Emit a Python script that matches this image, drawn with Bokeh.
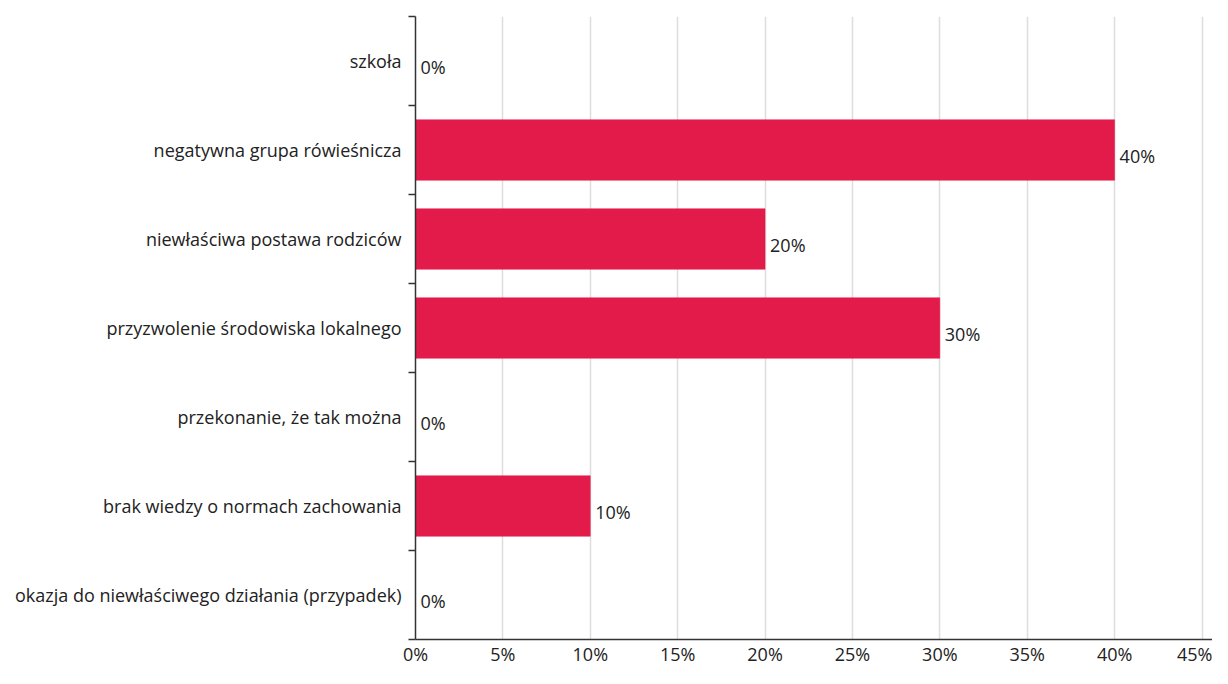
from bokeh.plotting import figure
from bokeh.models import Range1d, FixedTicker, ColumnDataSource, LabelSet
from bokeh.core.properties import value
from bokeh.embed import file_html
from bokeh.resources import INLINE

categories = [
    "szkoła",
    "negatywna grupa rówieśnicza",
    "niewłaściwa postawa rodziców",
    "przyzwolenie środowiska lokalnego",
    "przekonanie, że tak można",
    "brak wiedzy o normach zachowania",
    "okazja do niewłaściwego działania (przypadek)",
]
values = [0, 40, 20, 30, 0, 10, 0]
x_ticks = [0, 5, 10, 15, 20, 25, 30, 35, 40, 45]
x_tick_labels = {t: f"{t}%" for t in x_ticks}

FONT = "Open Sans"
FS = "18px"
TEXT = "#222222"
BAR = "#E31B4B"

n = len(categories)
centers = [i + 0.5 for i in range(n)]
bounds = [i for i in range(n + 1)]

src = ColumnDataSource(dict(
    y=centers,
    v=values,
    lab=[f"{v}%" for v in values],
))

p = figure(
    width=1212, height=668,
    x_range=Range1d(0, 45.6), y_range=Range1d(n, 0),
    output_backend="svg", toolbar_location=None,
    min_border_left=415, min_border_right=0, min_border_top=16, min_border_bottom=10,
)
p.outline_line_color = None
p.background_fill_color = "white"
p.border_fill_color = "white"

p.hbar(y="y", left=0, right="v", height=0.68, source=src,
       fill_color=BAR, line_color=BAR, line_width=0.5)

labels = LabelSet(x="v", y="y", text="lab", source=src, x_offset=5, y_offset=-6,
                  text_font=value(FONT), text_font_size=value(FS), text_color=TEXT,
                  text_baseline="middle", text_align="left")
p.add_layout(labels)

# x axis
p.xaxis.ticker = FixedTicker(ticks=x_ticks)
p.xaxis.major_label_overrides = x_tick_labels
p.xaxis.major_label_text_font = FONT
p.xaxis.major_label_text_font_size = FS
p.xaxis.major_label_text_color = TEXT
p.xaxis.major_tick_line_color = None
p.xaxis.minor_tick_line_color = None
p.xaxis.major_tick_out = 0
p.xaxis.major_label_standoff = 2
p.xaxis.axis_line_color = "#333333"
p.xaxis.axis_line_width = 1.5

# y axis
p.yaxis.ticker = FixedTicker(ticks=centers, minor_ticks=bounds)
p.yaxis.major_label_overrides = {c: categories[i] for i, c in enumerate(centers)}
p.yaxis.major_label_text_font = FONT
p.yaxis.major_label_text_font_size = FS
p.yaxis.major_label_text_color = TEXT
p.yaxis.major_tick_line_color = None
p.yaxis.major_tick_out = 0
p.yaxis.major_label_standoff = 7
p.yaxis.minor_tick_line_color = "#333333"
p.yaxis.minor_tick_line_width = 1.5
p.yaxis.minor_tick_out = 7
p.yaxis.minor_tick_in = 0
p.yaxis.axis_line_color = "#333333"
p.yaxis.axis_line_width = 1.5

p.xgrid.ticker = FixedTicker(ticks=x_ticks[1:])
p.xgrid.grid_line_color = "#dddddd"
p.xgrid.grid_line_width = 1.5
p.ygrid.grid_line_color = None

open("out.html", "w").write(file_html(p, INLINE))
